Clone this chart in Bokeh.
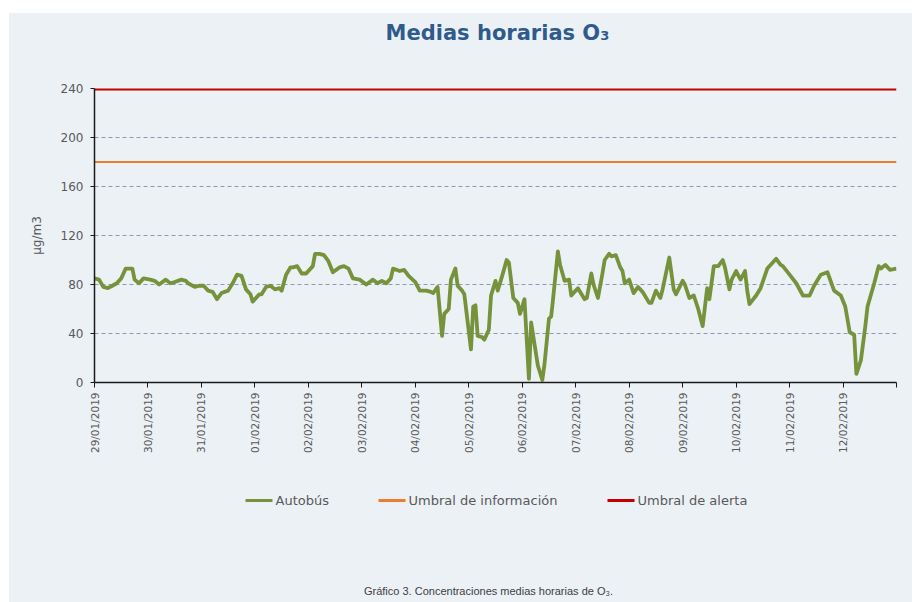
import math
from bokeh.plotting import figure
from bokeh.models import Range1d, FixedTicker, Spacer
from bokeh.core.properties import value
from bokeh.layouts import column, row
from bokeh.embed import file_html
from bokeh.resources import INLINE

# ---------------- data ----------------
# hours since 29/01/2019 00:00 and hourly O3 means (µg/m3)
hours = [0, 2, 4, 6, 8, 10, 12, 14, 17, 18, 20, 22, 25, 27, 29, 32, 34, 36, 39, 41,
         42, 45, 47, 49, 51, 53, 55, 57, 60, 62, 64, 66, 68, 70, 71, 74, 75, 77, 79, 81,
         83, 84, 86, 88, 89, 91, 93, 95, 98, 99, 101, 103, 105, 107, 110, 112, 114, 116,
         119, 122, 125, 127, 129, 131, 133, 134, 137, 139, 141, 144, 146, 149, 151, 152,
         154, 156, 157, 159, 160, 162, 163, 165, 166, 169, 170, 171, 172, 174, 175, 177,
         178, 180, 181, 183, 185, 186, 188, 190, 191, 193, 195, 196, 199, 201, 202, 204,
         205, 206, 208, 209, 211, 213, 214, 216, 217, 220, 221, 223, 224, 226, 228, 229,
         231, 232, 234, 236, 237,
         238, 240, 242, 244, 246, 249, 250, 252, 254, 255, 258, 260, 261, 264, 265, 267,
         269, 271, 273, 275, 276, 278, 280, 282, 283, 285, 286, 288, 290, 292, 293, 294,
         297, 299, 302, 306, 308, 309, 312, 315, 318, 321, 323, 326, 329, 332, 335, 337,
         339, 341, 342, 344, 346, 347, 350, 352, 353, 355, 357, 360]
autobus = [85, 84, 78, 77, 79, 81, 85, 93, 93, 84, 81, 85, 84, 83, 80, 84, 81, 82, 84, 83,
           81, 78, 79, 79, 75, 74, 68, 73, 75, 81, 88, 87, 76, 72, 66, 72, 72, 78, 79, 76,
           77, 75, 88, 94, 94, 95, 89, 89, 95, 105, 105, 104, 99, 90, 94, 95, 93, 85,
           84, 80, 84, 81, 83, 81, 85, 93, 91, 92, 87, 82, 75, 75, 74, 73,
           78, 38, 56, 60, 84, 93, 79, 75, 72, 27, 62, 63, 38, 37, 35, 43,
           71, 83, 75, 87, 100, 98, 69, 65, 56, 68, 3, 49, 14, 2, 15, 52,
           54, 71, 107, 96, 83, 84, 71, 75, 77, 68, 69, 89, 80, 69, 89, 100,
           105, 103, 104, 94, 91,
           81, 84, 73, 78, 74, 65, 65, 75, 69, 76, 102, 76, 72, 83, 80, 69,
           71, 60, 46, 77, 68, 95, 95, 100, 94, 76, 84, 91, 84, 91, 75, 64,
           71, 77, 93, 101, 96, 95, 88, 81, 71, 71, 79, 88, 90, 75, 71, 62,
           41, 39, 7, 18, 46, 62, 81, 95, 93, 96, 92, 93]
assert len(hours) == len(autobus)

umbral_informacion = 180
umbral_alerta = 240

day_labels = ["29/01/2019", "30/01/2019", "31/01/2019", "01/02/2019", "02/02/2019",
              "03/02/2019", "04/02/2019", "05/02/2019", "06/02/2019", "07/02/2019",
              "08/02/2019", "09/02/2019", "10/02/2019", "11/02/2019", "12/02/2019"]
y_ticks = [0, 40, 80, 120, 160, 200, 240]

title_text = "Medias horarias O₃"
caption_text = "Gráfico 3. Concentraciones medias horarias de O₃."
legend_labels = ["Autobús", "Umbral de información", "Umbral de alerta"]

# ---------------- styling ----------------
BG = "#ECF1F6"
GREY = "#595959"
FONT = "DejaVu Sans"
C_BUS, C_INFO, C_ALERT = "#76933C", "#ED7D31", "#C00000"
W = 903
# the strips' frames are aligned by the column with the chart frame (page x 94..896)
FX0, FX1 = 94, 896


def strip(height):
    f = figure(width=W, height=height, output_backend="svg", toolbar_location=None,
               x_range=Range1d(FX0, FX1), y_range=Range1d(0, height),
               min_border=0, x_axis_type=None, y_axis_type=None)
    f.background_fill_color = BG
    f.border_fill_color = BG
    f.outline_line_color = None
    f.grid.visible = False
    return f


# ---- title strip ----
head = strip(70)
head.text(x=[497], y=[51], text=[title_text], text_align="center",
          text_baseline="middle", text_font=value(FONT), text_font_style="bold",
          text_font_size="21px", text_color="#2F5B8C")

# ---- main chart ----
p = figure(width=W, height=387, output_backend="svg", toolbar_location=None,
           x_range=Range1d(0, 360), y_range=Range1d(0, 240),
           min_border_left=85, min_border_right=16, min_border_top=5,
           min_border_bottom=88)
p.background_fill_color = BG
p.border_fill_color = BG
p.outline_line_color = None

x_tick_pos = [24 * i for i in range(len(day_labels) + 1)]
p.xaxis.ticker = FixedTicker(ticks=x_tick_pos)
overrides = {t: lab for t, lab in zip(x_tick_pos, day_labels)}
overrides[x_tick_pos[-1]] = ""
p.xaxis.major_label_overrides = overrides
p.xaxis.major_label_orientation = math.pi / 2
p.xaxis.minor_tick_line_color = None
p.xaxis.major_tick_out = 5
p.xaxis.major_tick_in = 0
p.xaxis.major_label_standoff = 5

p.yaxis.ticker = FixedTicker(ticks=y_ticks)
p.yaxis.minor_tick_line_color = None
p.yaxis.major_tick_out = 4
p.yaxis.major_tick_in = 0
p.yaxis.major_label_standoff = 7
p.yaxis.axis_label = "µg/m3"
p.yaxis.axis_label_standoff = 14
p.yaxis.axis_label_text_font_style = "normal"
p.yaxis.axis_label_text_font_size = "12px"
p.yaxis.axis_label_text_color = GREY
p.yaxis.axis_label_text_font = FONT

for ax in (p.xaxis, p.yaxis):
    ax.axis_line_color = "#1a1a1a"
    ax.axis_line_width = 1.5
    ax.major_tick_line_color = "#1a1a1a"
    ax.major_label_text_color = GREY
    ax.major_label_text_font = FONT
p.xaxis.major_label_text_font_size = "10.5px"
p.yaxis.major_label_text_font_size = "12px"

p.xgrid.grid_line_color = None
p.ygrid.ticker = FixedTicker(ticks=[40, 80, 120, 160, 200])
p.ygrid.grid_line_color = "#8C9AB3"
p.ygrid.grid_line_dash = "4 3"
p.ygrid.grid_line_width = 1

x_ends = [hours[0], hours[-1]]
p.line(hours, autobus, line_color=C_BUS, line_width=3.8, line_join="round")
p.line(x_ends, [umbral_informacion] * 2, line_color=C_INFO, line_width=2)
p.line(x_ends, [umbral_alerta] * 2, line_color=C_ALERT, line_width=4)

# ---- legend + caption strip ----
foot = strip(132)
leg_x = [245, 378, 607]
leg_y = 102
foot.segment(x0=leg_x, y0=[leg_y] * 3, x1=[x + 27 for x in leg_x], y1=[leg_y] * 3,
             line_color=[C_BUS, C_INFO, C_ALERT], line_width=3)
foot.text(x=[x + 30 for x in leg_x], y=[leg_y] * 3, text=legend_labels,
          text_baseline="middle", text_align="left", text_font=value(FONT),
          text_font_size="13px", text_color=GREY)
foot.text(x=[488], y=[12], text=[caption_text], text_align="center",
          text_baseline="middle", text_font=value("Liberation Sans"),
          text_font_size="11px", text_color="#404040")

inner = column(head, p, foot, spacing=0, styles={"background-color": BG})
layout = column(Spacer(height=13, width=912),
                row(Spacer(width=9, height=589), inner))
open("out.html", "w").write(file_html(layout, INLINE))
